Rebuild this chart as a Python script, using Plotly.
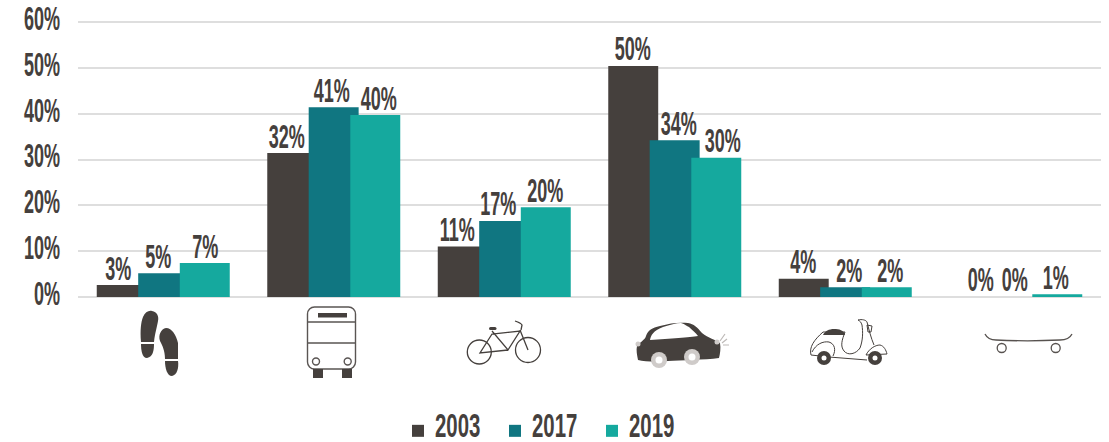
import base64
import plotly.graph_objects as go

modes = ["Walking", "Bus", "Bicycle", "Car", "Scooter", "Skateboard"]
years = ["2003", "2017", "2019"]
values_2003 = [2.6, 31.4, 11.0, 50.4, 4.0, 0.0]
values_2017 = [5.2, 41.4, 16.6, 34.2, 2.1, 0.0]
values_2019 = [7.4, 39.7, 19.6, 30.4, 2.1, 0.6]
labels_2003 = ["3%", "32%", "11%", "50%", "4%", "0%"]
labels_2017 = ["5%", "41%", "17%", "34%", "2%", "0%"]
labels_2019 = ["7%", "40%", "20%", "30%", "2%", "1%"]
y_ticks = [0, 10, 20, 30, 40, 50, 60]
y_tick_labels = ["0%", "10%", "20%", "30%", "40%", "50%", "60%"]

# label centres relative to each category centre, in pixels of the reference
label_shift_2003 = [-45, -47, -47, -42, -42, -35]
label_shift_2017 = [-5, -2, -6, 4, 4, -1]
label_shift_2019 = [42, 45, 41, 48, 45, 40]

DARK, TEAL, GREEN, GRID = "#45403d", "#107681", "#15a99e", "#dedede"
FONT = "Liberation Sans, Arial, sans-serif"
L, R, T, B = 78, 1101, 20, 299
PX_PER_CAT = 170.6
PX_PER_PCT = 4.583
PAD = 2 / PX_PER_PCT

ICONS = f'''<svg xmlns="http://www.w3.org/2000/svg" viewBox="{L} 298 {R-L} 90" width="{R-L}" height="90">
<g fill="{DARK}">
<path d="M141 342C140 330 141 322 143 317C145 312 149 310 152 311C157 312 159 316 158 321C157 327 155 333 154 342Z"/>
<path d="M141 344L154 344C154 350 153 357 147 358C142 358 141 350 141 344Z"/>
<path d="M165 359C165 350 162 345 160 341C158 335 161 329 166 328C172 328 176 335 178 343C178 348 178 354 178 359Z"/>
<path d="M165 361L178 361C179 368 177 375 172 376C167 376 165 368 165 361Z"/>
</g>
<g fill="none" stroke="#5a5553" stroke-width="1.4">
<rect x="307.5" y="307" width="48" height="62" rx="7"/>
<path d="M307.5 322H355.5M307.5 343H355.5"/>
<circle cx="316" cy="361.5" r="3.5"/><circle cx="347.7" cy="361.5" r="3.5"/>
</g>
<g fill="{DARK}">
<rect x="318" y="313" width="29" height="4.5"/>
<rect x="313" y="369" width="10" height="9"/><rect x="342" y="369" width="10" height="9"/>
</g>
<g fill="none" stroke="{DARK}" stroke-width="1.3">
<circle cx="479.3" cy="352" r="12"/><circle cx="528" cy="350" r="12.5"/>
<path d="M492 331L508 350L520 331L492 334L480 353L508 350M520 330L528 350M521 330L522 325C521 323 518 322 515 321"/>
</g>
<rect x="489" y="327" width="7.5" height="3" rx="1.5" fill="{DARK}"/>
<path fill="{DARK}" d="M637 346C640 342 645 340 646 336C648 330 652 328 660 326C670 323 680 322 688 323C694 324 697 327 702 333C708 338 716 340 720 343C721 348 720 354 719 358C705 360 680 360 668 361C660 362 645 362 638 360C637 355 636 350 637 346Z"/>
<path fill="#fff" d="M650 340C651 335 653 331 663 327C670 325 676 323 681 323C685 324 688 327 689 327C692 330 696 333 698 336C690 337 670 339 650 340Z"/>
<g fill="#cfcbc9"><circle cx="659" cy="360" r="8"/><circle cx="692" cy="357" r="8"/><circle cx="638" cy="344" r="2.5"/><circle cx="717" cy="342" r="2.5"/></g>
<g fill="#fff"><circle cx="659" cy="360" r="3.5"/><circle cx="692" cy="357" r="3.5"/></g>
<path stroke="#bdb9b7" stroke-width="1.2" fill="none" d="M720 341L725 334M722 343L727 339M723 345L729 345"/>
<g fill="none" stroke="{DARK}" stroke-width="1">
<path d="M811 355L829 357L867 360M811 355C809 347 814 340 823 332L845 332C842 340 840 346 844 351C848 356 856 354 860 348C863 340 863 332 862 325C861 322 860 321 858 320C862 319 866 320 867 322C869 330 871 338 874 345"/>
<path d="M812 352C816 344 823 341 829 342C835 344 836 350 833 356"/>
<path d="M866 355C869 349 875 345 880 345C884 346 886 350 887 354L866 355"/>
<path d="M867 325L872 326L871 332L868 332Z"/>
</g>
<path fill="{DARK}" d="M823 335C825 331 829 329 834 329C839 329 844 330 845 335Z"/>
<g fill="{DARK}"><circle cx="824" cy="358" r="7"/><circle cx="875" cy="358" r="7"/></g>
<g fill="#fff"><circle cx="824" cy="358" r="2.5"/><circle cx="875" cy="358" r="2.5"/></g>
<g fill="none" stroke="#57524f" stroke-width="1.3">
<path d="M985 334C987 338 990 340 996 340C1015 341 1040 341 1060 340C1066 340 1070 338 1072 334"/>
<circle cx="1001.7" cy="348" r="4.5"/><circle cx="1055.7" cy="348" r="4.5"/>
</g>
</svg>'''
icon_uri = "data:image/svg+xml;base64," + base64.b64encode(ICONS.encode()).decode()

bar_width = 0.293
bar_offsets = [-0.39, -0.147, 0.097]
colors = [DARK, TEAL, GREEN]
series = [values_2003, values_2017, values_2019]
labels = [labels_2003, labels_2017, labels_2019]
shifts = [label_shift_2003, label_shift_2017, label_shift_2019]
positions = list(range(len(modes)))

fig = go.Figure()
for year, vals, labs, col, off in zip(years, series, labels, colors, bar_offsets):
    fig.add_trace(go.Bar(
        x=positions, y=vals, name=year, width=bar_width, offset=off,
        marker=dict(color=col, line=dict(width=0)),
        customdata=labs, hovertext=modes,
        hovertemplate="%{hovertext}: %{customdata}<extra>" + year + "</extra>",
    ))
for year, vals, labs, shift in zip(years, series, labels, shifts):
    fig.add_trace(go.Scatter(
        x=[p + s / PX_PER_CAT for p, s in zip(positions, shift)], y=vals, text=labs,
        mode="text", textposition="top center", cliponaxis=False, showlegend=False,
        hoverinfo="skip", name=year + " labels",
        textfont=dict(family=FONT, size=34, color=DARK, weight="bold"),
    ))

fig.update_layout(
    width=1109, height=442, autosize=False, barmode="overlay",
    margin=dict(l=L, r=1109 - R, t=T, b=442 - B, autoexpand=False),
    paper_bgcolor="white", plot_bgcolor="white",
    font=dict(family=FONT, color=DARK),
    xaxis=dict(range=[-0.5, 5.5], showticklabels=False, showgrid=False, zeroline=False, ticks=""),
    yaxis=dict(range=[-PAD, 60 + PAD], tickvals=y_ticks, ticktext=y_tick_labels, showgrid=True,
               automargin=False, gridcolor=GRID, gridwidth=2, zeroline=False, ticks="",
               ticklabelstandoff=17,
               tickfont=dict(family=FONT, size=34, color=DARK, weight="bold")),
    legend=dict(orientation="h", x=(398 - L) / (R - L), xanchor="left", y=-0.37, yanchor="top",
                font=dict(family=FONT, size=34, color=DARK, weight="bold"),
                itemwidth=30, entrywidth=52, entrywidthmode="pixels", traceorder="normal"),
    shapes=[dict(type="line", xref="paper", x0=0, x1=1, yref="y", y0=60, y1=60, layer="below",
                 line=dict(color="#cfcfcf", width=2))],
    images=[dict(source=icon_uri, xref="paper", yref="paper", x=0, y=1 - (298 - T) / (B - T),
                 sizex=1, sizey=90 / (B - T), xanchor="left", yanchor="top",
                 sizing="stretch", layer="above")],
)

# No condensed face is installed: narrow the real text glyphs after drawing.
POST = """
document.body.style.margin = '0';
document.querySelectorAll('text.legendtext').forEach(function (t) { t.setAttribute('x', '37'); });
document.querySelectorAll('.legend [clip-path], .legend .scrollbox').forEach(function (g) { g.removeAttribute('clip-path'); });
document.querySelectorAll('.legend .legendtoggle').forEach(function (g) { g.setAttribute('height', '20'); });
function squeeze(sel, k, dy) {
  document.querySelectorAll(sel).forEach(function (t) {
    var ax = t.getAttribute('x') || '0';
    var old = t.getAttribute('transform') || '';
    t.setAttribute('dy', dy);
    t.setAttribute('transform', old + ' translate(' + ax + ',0) scale(' + k + ',1) translate(' + (-ax) + ',0)');
  });
}
squeeze('.ytick text', 0.53, '-4');
squeeze('.textpoint text', 0.53, '3');
squeeze('text.legendtext', 0.6, '-7');
"""
fig.write_html("out.html", post_script=POST, config=dict(displayModeBar=False))
